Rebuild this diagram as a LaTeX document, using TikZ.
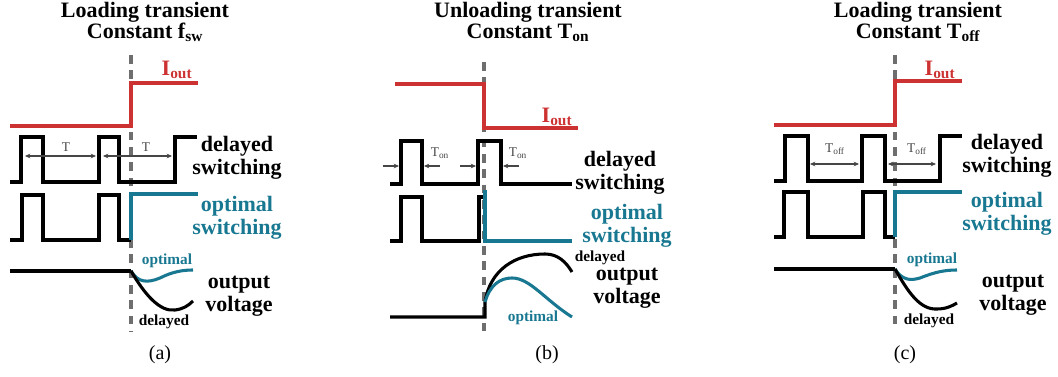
\documentclass[tikz,border=0pt]{standalone}
\usepackage{fontspec}
\setmainfont{Liberation Serif}
\usetikzlibrary{arrows.meta}
\definecolor{cred}{RGB}{205,50,50}
\definecolor{cteal}{RGB}{25,120,145}
\definecolor{cgray}{RGB}{110,110,110}
\definecolor{cdark}{RGB}{70,70,70}
\begin{document}
\begin{tikzpicture}[x=0.75pt,y=-0.75pt,
  wave/.style={line width=2.3pt,line join=miter},
  redwave/.style={wave,draw=cred},
  tealwave/.style={wave,draw=cteal},
  tmark/.style={line width=2.3pt,draw=cgray,dash pattern=on 6.5pt off 5pt},
  ttl/.style={font=\fontsize{16.5}{16}\selectfont\bfseries,align=center},
  lbl/.style={font=\fontsize{16.5}{17}\selectfont\bfseries,align=center,inner sep=0pt},
  smalllbl/.style={font=\fontsize{11.5}{12}\selectfont\bfseries,inner sep=0pt},
  tl/.style={font=\fontsize{10}{10}\selectfont,text=cdark,inner sep=0pt},
  iout/.style={font=\fontsize{16.5}{17}\selectfont\bfseries,text=cred,inner sep=0pt},
  captxt/.style={font=\fontsize{15}{15}\selectfont,inner sep=0pt},
  dimarrow/.style={line width=0.9pt,draw=cdark,{Stealth[length=4pt,width=3.5pt]}-{Stealth[length=4pt,width=3.5pt]}},
  pinarrow/.style={line width=0.9pt,draw=cdark,-{Stealth[length=4pt,width=3.5pt]}}]
\useasboundingbox (0,0) rectangle (1058,377);

%% ---------------- (a) ----------------
\node[ttl] (ta) at (145,22) {Loading transient\\Constant f\textsubscript{sw}};
\draw[tmark] (131,55) -- (131,332);
\draw[redwave] (10,126) -- (131,126) -- (131,83) -- (198,83);
\node[iout] (ia) at (177,70) {I\textsubscript{out}};
\draw[wave] (10,182) -- (21,182) -- (21,137) -- (43,137) -- (43,182) -- (99,182) -- (99,137) -- (119,137) -- (119,182) -- (175,182) -- (175,137) -- (197,137);
\coordinate (a1l) at (25,156); \coordinate (a1r) at (96,156);
\coordinate (a2l) at (103,156); \coordinate (a2r) at (172,156);
\draw[dimarrow] (a1l) -- (a1r);
\draw[dimarrow] (a2l) -- (a2r);
\node[tl] (ta1) at (66,147) {T};
\node[tl] (ta2) at (146,147) {T};
\node[lbl] (da) at (237,158) {delayed\\switching};
\draw[wave] (10,240) -- (22,240) -- (22,195) -- (43,195) -- (43,240) -- (99,240) -- (99,195) -- (119,195) -- (119,240) -- (131,240);
\draw[tealwave] (131,240) -- (131,194) -- (198,194);
\node[lbl,text=cteal] (oa) at (237,218) {optimal\\switching};
\draw[wave] (10,271) -- (131,271);
\draw[tealwave] (131,271) .. controls (138,283) and (148,283) .. (160,278) .. controls (172,272) and (182,270) .. (193,270);
\draw[wave] (131,271) .. controls (145,295) and (160,312) .. (175,310) .. controls (183,309) and (188,306) .. (193,301);
\node[smalllbl,text=cteal] (sa1) at (167,261) {optimal};
\node[smalllbl] (sa2) at (164,322) {delayed};
\node[lbl] (va) at (239,296) {output\\voltage};
\node[captxt] (ca) at (160,355) {(a)};

%% ---------------- (b) ----------------
\node[ttl] (tb) at (528,22) {Unloading transient\\Constant T\textsubscript{on}};
\draw[tmark] (484,62) -- (484,333);
\draw[redwave] (395,84) -- (484,84) -- (484,128) -- (578,128);
\node[iout] (ib) at (557,117) {I\textsubscript{out}};
\draw[wave] (390,184) -- (401,184) -- (401,141) -- (422,141) -- (422,184) -- (478,184) -- (478,141) -- (501,141) -- (501,184) -- (572,184);
\coordinate (b1a) at (383,166); \coordinate (b1b) at (399,166);
\coordinate (b1c) at (440,166); \coordinate (b1d) at (424,166);
\coordinate (b2a) at (460,166); \coordinate (b2b) at (476,166);
\coordinate (b2c) at (519,166); \coordinate (b2d) at (503,166);
\draw[pinarrow] (b1a) -- (b1b);
\draw[pinarrow] (b1c) -- (b1d);
\draw[pinarrow] (b2a) -- (b2b);
\draw[pinarrow] (b2c) -- (b2d);
\node[tl] (tb1) at (440,153) {T\textsubscript{on}};
\node[tl] (tb2) at (518,153) {T\textsubscript{on}};
\node[lbl] (db) at (620,173) {delayed\\switching};
\draw[wave] (390,241) -- (401,241) -- (401,197) -- (422,197) -- (422,241) -- (479,241) -- (479,197) -- (483,197);
\draw[tealwave] (485,190) -- (485,241) -- (572,241);
\node[lbl,text=cteal] (ob) at (627,226) {optimal\\switching};
\draw[wave] (390,317) -- (485,317) -- (485,302) .. controls (490,270) and (515,254) .. (545,254) .. controls (558,254) and (566,262) .. (572,272);
\draw[tealwave] (485,302) .. controls (490,285) and (500,278) .. (512,278) .. controls (530,278) and (545,300) .. (572,317);
\node[smalllbl] (sb1) at (600,258) {delayed};
\node[smalllbl,text=cteal] (sb2) at (533,318) {optimal};
\node[lbl] (vb) at (627,288) {output\\voltage};
\node[captxt] (cb) at (547,355) {(b)};

%% ---------------- (c) ----------------
\node[ttl] (tc) at (918,22) {Loading transient\\Constant T\textsubscript{off}};
\draw[tmark] (895,55) -- (895,327);
\draw[redwave] (774,125) -- (895,125) -- (895,81) -- (962,81);
\node[iout] (ic) at (940,70) {I\textsubscript{out}};
\draw[wave] (774,181) -- (785,181) -- (785,136) -- (808,136) -- (808,181) -- (862,181) -- (862,136) -- (885,136) -- (885,181) -- (940,181) -- (940,136) -- (962,136);
\coordinate (c1l) at (810,164); \coordinate (c1r) at (859,164);
\coordinate (c2l) at (888,164); \coordinate (c2r) at (936,164);
\draw[dimarrow] (c1l) -- (c1r);
\draw[dimarrow] (c2l) -- (c2r);
\node[tl] (tc1) at (835,149) {T\textsubscript{off}};
\node[tl] (tc2) at (917,149) {T\textsubscript{off}};
\node[lbl] (dc) at (1007,156) {delayed\\switching};
\draw[wave] (774,237) -- (784,237) -- (784,192) -- (808,192) -- (808,237) -- (863,237) -- (863,192) -- (885,192) -- (885,237) -- (895,237);
\draw[tealwave] (895,237) -- (895,192) -- (962,192);
\node[lbl,text=cteal] (oc) at (1007,214) {optimal\\switching};
\draw[wave] (774,269) -- (895,269);
\draw[tealwave] (895,269) .. controls (902,280) and (910,281) .. (920,278) .. controls (935,272) and (945,270) .. (957,270);
\draw[wave] (895,269) .. controls (908,292) and (920,310) .. (937,309) .. controls (946,309) and (952,306) .. (957,303);
\node[smalllbl,text=cteal] (sc1) at (932,260) {optimal};
\node[smalllbl] (sc2) at (929,321) {delayed};
\node[lbl] (vc) at (1013,295) {output\\voltage};
\node[captxt] (cc) at (905,355) {(c)};
\end{tikzpicture}
\end{document}
